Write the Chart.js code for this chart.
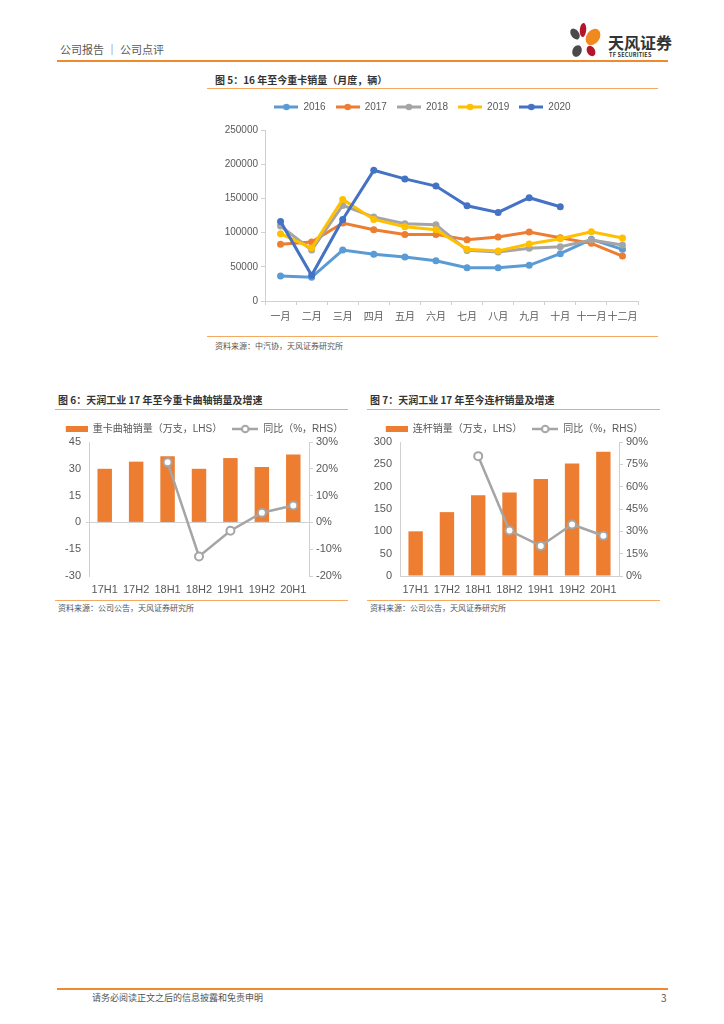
<!DOCTYPE html>
<html><head><meta charset="utf-8">
<script src="https://cdn.jsdelivr.net/npm/chart.js@4"></script>
<style>
body{margin:0;background:#fff;width:724px;height:1024px;position:relative;overflow:hidden;font-family:"Noto Sans CJK SC","Noto Sans",sans-serif;}
.a{position:absolute;white-space:nowrap;}
.title{font-size:10px;font-weight:bold;color:#333;line-height:13px;}
.src{font-size:8px;color:#555;line-height:10px;}
.ol{position:absolute;height:1px;background:#F5A860;}
canvas{position:absolute;}
</style></head><body>

<div class="a" style="left:60px;top:42px;font-size:11px;line-height:15px;color:#595959;">公司报告 ｜ 公司点评</div>
<svg class="a" style="left:566px;top:20px" width="42" height="42" viewBox="0 0 42 42">
  <ellipse cx="9" cy="14" rx="4" ry="6" fill="#4a4a4a" transform="rotate(-35 9 14)"/>
  <ellipse cx="17" cy="10" rx="3.2" ry="7" fill="#B5152B" transform="rotate(5 17 10)"/>
  <ellipse cx="27" cy="17" rx="6.5" ry="9" fill="#F08A1E" transform="rotate(35 27 17)"/>
  <ellipse cx="11" cy="31" rx="4.5" ry="6" fill="#4a4a4a" transform="rotate(25 11 31)"/>
  <ellipse cx="25" cy="31" rx="4" ry="5.5" fill="#B5152B" transform="rotate(-30 25 31)"/>
</svg>
<div class="a" style="left:608px;top:32px;font-size:16px;font-weight:bold;line-height:20px;color:#333;">天风证券</div>
<div class="a" style="left:609px;top:52px;font-size:5.5px;font-weight:bold;line-height:7px;color:#333;letter-spacing:0.2px;">TF SECURITIES</div>
<div class="a" style="left:57px;top:60px;width:611px;height:2px;background:#EF8A2E;"></div>

<div class="a title" style="left:215px;top:73px;">图 5：16 年至今重卡销量（月度，辆）</div>
<div class="ol" style="left:207px;top:88px;width:451px;"></div>
<canvas id="c1" width="451" height="240" style="left:207px;top:92px;"></canvas>
<div class="ol" style="left:207px;top:336px;width:451px;"></div>
<div class="a src" style="left:215px;top:341px;">资料来源：中汽协，天风证券研究所</div>

<div class="a title" style="left:58px;top:393px;">图 6：天润工业 17 年至今重卡曲轴销量及增速</div>
<div class="ol" style="left:55px;top:409px;width:293px;"></div>
<div class="a title" style="left:370px;top:393px;">图 7：天润工业 17 年至今连杆销量及增速</div>
<div class="ol" style="left:367px;top:409px;width:293px;"></div>
<canvas id="c2" width="325" height="185" style="left:40px;top:414px;"></canvas>
<canvas id="c3" width="325" height="185" style="left:350px;top:414px;"></canvas>
<div class="ol" style="left:55px;top:600px;width:293px;"></div>
<div class="a src" style="left:58px;top:603px;">资料来源：公司公告，天风证券研究所</div>
<div class="ol" style="left:367px;top:600px;width:293px;"></div>
<div class="a src" style="left:370px;top:603px;">资料来源：公司公告，天风证券研究所</div>

<div class="a" style="left:57px;top:988px;width:611px;height:2px;background:#EF8A2E;"></div>
<div class="a" style="left:92px;top:992px;font-size:9px;line-height:12px;color:#555;">请务必阅读正文之后的信息披露和免责申明</div>
<div class="a" style="left:661px;top:992px;font-size:10px;line-height:12px;color:#555;">3</div>

<script>
// ---- data ----
const months = ['一月','二月','三月','四月','五月','六月','七月','八月','九月','十月','十一月','十二月'];
const years = ['2016','2017','2018','2019','2020'];
const sales2016 = [36500,34600,74500,68200,64300,58900,48700,48700,52100,69200,90100,75500];
const sales2017 = [82800,86200,114000,104200,97400,97400,89600,93500,100800,92500,84300,65700];
const sales2018 = [109600,74500,139800,122700,113000,111500,74000,71600,77000,79400,89100,81800];
const sales2019 = [98400,77400,148500,119300,108600,104200,75500,73000,83300,91100,101300,92000];
const sales2020 = [116400,37500,119300,191000,178500,168000,139300,129500,151000,137800,null,null];

const halves = ['17H1','17H2','18H1','18H2','19H1','19H2','20H1'];
const crankVol = [30,34,37,30,36,31,38];
const crankYoY = [null,null,22.4,-12.7,-3.1,3.6,6.3];
const rodVol = [100,143,181,187,217,252,278];
const rodYoY = [null,null,80.5,30.5,20.2,34.6,27.0];

// ---- styling ----
const FONT = '"Liberation Sans","Noto Sans CJK SC",sans-serif';
const TXT = '#595959';
const AX = '#d0d0d0';
const yearColors = ['#5B9BD5','#ED7D31','#A5A5A5','#FFC000','#4472C4'];
const ORANGE = '#ED7D31', GRAY = '#A5A5A5';

function lineIcon(color, w, hollow){
  const c = document.createElement('canvas'); c.width = w; c.height = 10;
  const g = c.getContext('2d');
  g.strokeStyle = color; g.lineWidth = hollow ? 2.5 : 3;
  g.beginPath(); g.moveTo(0,5); g.lineTo(w,5); g.stroke();
  g.beginPath(); g.arc(w/2,5,3.3,0,Math.PI*2);
  if (hollow){ g.fillStyle='#fff'; g.fill(); g.lineWidth=2; g.stroke(); }
  else { g.fillStyle=color; g.fill(); }
  return c;
}
function boxIcon(color, cw, w, h){
  const c = document.createElement('canvas'); c.width = cw; c.height = 10;
  const g = c.getContext('2d'); g.fillStyle = color; g.fillRect(cw - w,(10-h)/2,w,h);
  return c;
}
function legendHeight(h){
  return {id:'legendH', beforeInit(chart){
    const orig = chart.legend.fit;
    chart.legend.fit = function(){ orig.bind(chart.legend)(); this.height = h; };
  }};
}

// ---- chart 1 ----
const series = [sales2016, sales2017, sales2018, sales2019, sales2020];
const icons1 = yearColors.map(c => lineIcon(c, 24, false));
new Chart(document.getElementById('c1'), {
  type: 'line',
  data: { labels: months, datasets: series.map((d,i) => ({
    label: years[i], data: d, borderColor: yearColors[i], backgroundColor: yearColors[i],
    pointBackgroundColor: yearColors[i], pointBorderColor: yearColors[i],
    borderWidth: 3, pointRadius: 3.5, pointBorderWidth: 0, order: 5 - i, tension: 0
  })) },
  options: {
    responsive: false, animation: false,
    layout: { padding: { top: 0, right: 20, left: 0, bottom: 0 } },
    plugins: {
      tooltip: { enabled: false },
      legend: { labels: {
        usePointStyle: true, pointStyleWidth: 24, padding: 10, color: TXT,
        font: { family: FONT, size: 10 },
        sort: (a,b) => a.datasetIndex - b.datasetIndex,
        generateLabels: (chart) => Chart.defaults.plugins.legend.labels.generateLabels(chart)
          .map(l => Object.assign(l, { pointStyle: icons1[l.datasetIndex] }))
      } }
    },
    scales: {
      x: { offset: true,
        grid: { offset: true, drawOnChartArea: false, tickLength: 4, color: AX },
        border: { color: AX },
        ticks: { color: TXT, font: { family: FONT, size: 10 }, padding: 6, maxRotation: 0, autoSkip: false },
        afterFit: s => { s.height = 31; } },
      y: { min: 0, max: 250000,
        grid: { drawOnChartArea: false, tickLength: 4, color: AX },
        border: { color: AX },
        ticks: { stepSize: 50000, color: TXT, font: { family: FONT, size: 10 }, padding: 3,
          callback: v => String(v) },
        afterFit: s => { s.width = 58; } }
    }
  },
  plugins: [legendHeight(38)]
});

// ---- charts 2 & 3 ----
function comboChart(id, volLabel, vol, yoy, lmin, lmax, lstep, rmin, rmax, rstep, legPad, wL, zeroLine, xBorder){
  const icons = [boxIcon(ORANGE, 26, 22, 6), lineIcon(GRAY, 26, true)];
  return new Chart(document.getElementById(id), {
    type: 'bar',
    data: { labels: halves, datasets: [
      { type: 'bar', label: volLabel, data: vol, backgroundColor: ORANGE, yAxisID: 'y',
        barPercentage: 0.46, categoryPercentage: 1, order: 2 },
      { type: 'line', label: '同比（%，RHS）', data: yoy, yAxisID: 'y1', borderColor: GRAY,
        borderWidth: 2.5, pointRadius: 4, pointBackgroundColor: '#fff', pointBorderColor: GRAY,
        pointBorderWidth: 2, order: 1, tension: 0 }
    ] },
    options: {
      responsive: false, animation: false,
      layout: { padding: 0 },
      plugins: {
        tooltip: { enabled: false },
        legend: { labels: {
          usePointStyle: true, pointStyleWidth: 26, padding: 10, color: TXT,
          font: { family: FONT, size: 10 },
          sort: (a,b) => a.datasetIndex - b.datasetIndex,
          generateLabels: (chart) => Chart.defaults.plugins.legend.labels.generateLabels(chart)
            .map(l => Object.assign(l, { pointStyle: icons[l.datasetIndex] }))
        } }
      },
      scales: {
        x: { grid: { display: false, drawTicks: false },
          border: { display: xBorder, color: AX },
          ticks: { color: TXT, font: { family: FONT, size: 11 }, padding: 7, maxRotation: 0, minRotation: 0, autoSkip: false },
          afterFit: s => { s.height = 23; } },
        y: { position: 'left', min: lmin, max: lmax,
          grid: { drawTicks: true, tickLength: 3,
            color: c => (zeroLine && c.tick && c.tick.value === 0) ? AX : 'rgba(0,0,0,0)' },
          border: { color: AX },
          ticks: { stepSize: lstep, color: TXT, font: { family: FONT, size: 11 }, padding: 5 },
          afterFit: s => { s.width = wL; } },
        y1: { position: 'right', min: rmin, max: rmax,
          grid: { drawOnChartArea: false, tickLength: 4, color: AX },
          border: { color: AX },
          ticks: { stepSize: rstep, color: TXT, font: { family: FONT, size: 11 }, padding: 3,
            callback: v => v + '%' },
          afterFit: s => { s.width = 56; } }
      }
    },
    plugins: [legendHeight(28)]
  });
}
comboChart('c2', '重卡曲轴销量（万支，LHS）', crankVol, crankYoY, -30, 45, 15, -20, 30, 10, 8, 49, true, false);
comboChart('c3', '连杆销量（万支，LHS）', rodVol, rodYoY, 0, 300, 50, 0, 90, 15, 12, 50, false, true);
</script>
</body></html>
